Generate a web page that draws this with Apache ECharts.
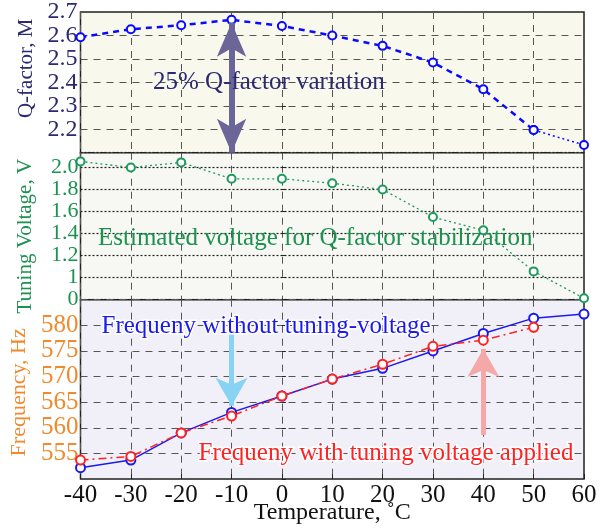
<!DOCTYPE html>
<html>
<head>
<meta charset="utf-8">
<script src="https://cdn.jsdelivr.net/npm/echarts@6/dist/echarts.min.js"></script>
<style>
  html, body { margin: 0; padding: 0; background: #fff; }
  #chart { width: 612px; height: 529px; }
</style>
</head>
<body>
<div id="chart"></div>
<script>
// data
const temps = [-40, -30, -20, -10, 0, 10, 20, 30, 40, 50, 60];
const qFactor = [2.593, 2.627, 2.644, 2.667, 2.641, 2.600, 2.556, 2.485, 2.371, 2.197, 2.133];
const tuningVoltage = [2.055, 2.0, 2.046, 1.897, 1.897, 1.857, 1.80, 1.55, 1.43, 1.057, 0.813];
const freqNoTuning = [552.2, 553.7, 559.0, 563.0, 566.2, 569.5, 571.6, 575.0, 578.4, 581.4, 582.2];
const freqTuned = [553.7, 554.4, 559.0, 562.3, 566.2, 569.5, 572.4, 575.9, 577.1, 579.6, null];
const qTicks = [2.2, 2.3, 2.4, 2.5, 2.6, 2.7];
const vTickLabels = { '0.8': '0', '1': '1', '1.2': '1.2', '1.4': '1.4', '1.6': '1.6', '1.8': '1.8', '2': '2.0' };
const fTicks = [555, 560, 565, 570, 575, 580];

const FONT = 'Liberation Serif';
const chart = echarts.init(document.getElementById('chart'));

const pair = arr => temps.map((t, i) => [t, arr[i]]);
// Q-factor: dashed up to 50, thin dotted last segment
const qMain = temps.map((t, i) => [t, i <= 9 ? qFactor[i] : null]);
const qTail = temps.map((t, i) => [t, i >= 9 ? qFactor[i] : null]);

function xAxisFor (idx, showLabels) {
  return {
    gridIndex: idx, type: 'value', min: -40, max: 60, interval: 10,
    axisLine: { show: false },
    axisTick: { show: showLabels, inside: true, length: 5, lineStyle: { color: '#222' } },
    axisLabel: { show: showLabels, color: '#111', fontFamily: FONT, fontSize: 25, margin: 4 },
    splitLine: { show: true, lineStyle: { color: '#555', type: [7, 6], width: 1 } },
    name: showLabels ? 'Temperature, ˚C' : '',
    nameLocation: 'middle', nameGap: 22, nameMoveOverlap: false,
    nameTextStyle: { color: '#111', fontFamily: FONT, fontSize: 24 }
  };
}

const yTick = { show: true, inside: true, length: 4, lineStyle: { color: '#222' } };
const gridBase = { left: 80.5, right: 28, show: true, borderColor: '#222', borderWidth: 1.5, containLabel: false, outerBoundsMode: 'none' };

chart.setOption({
  animation: false,
  backgroundColor: '#fff',
  grid: [
    Object.assign({ top: 12, height: 140.7, backgroundColor: '#f8f8ec' }, gridBase),
    Object.assign({ top: 152.7, height: 147, backgroundColor: '#f7f7f3' }, gridBase),
    Object.assign({ top: 299.7, height: 179.3, backgroundColor: '#f1f0f8' }, gridBase)
  ],
  xAxis: [xAxisFor(0, false), xAxisFor(1, false), xAxisFor(2, true)],
  yAxis: [
    {
      gridIndex: 0, type: 'value', min: 2.1, max: 2.7005, interval: 0.1,
      axisLine: { show: false }, axisTick: yTick,
      axisLabel: {
        color: '#2b2970', fontFamily: FONT, fontSize: 24, lineHeight: 20, margin: 3,
        showMinLabel: false, hideOverlap: false,
        formatter: v => qTicks.some(t => Math.abs(t - v) < 1e-6) ? v.toFixed(1) : ''
      },
      splitLine: { lineStyle: { color: '#555', type: [7, 6] } },
      name: 'Q-factor, M', nameLocation: 'middle', nameGap: 44,
      nameTextStyle: { color: '#2b2970', fontFamily: FONT, fontSize: 21, padding: [0, 0, 0, 28] }
    },
    {
      gridIndex: 1, type: 'value', min: 0.8, max: 2.134, interval: 0.2,
      axisLine: { show: false }, axisTick: yTick,
      axisLabel: {
        color: '#1c9150', fontFamily: FONT, fontSize: 22, lineHeight: 20, margin: 2, hideOverlap: false,
        formatter: v => vTickLabels[String(Math.round(v * 10) / 10)] || ''
      },
      splitLine: { lineStyle: { color: '#222', type: [2, 2], width: 1.2 } },
      name: 'Tuning Voltage, V', nameLocation: 'middle', nameGap: 45,
      nameTextStyle: { color: '#1c9150', fontFamily: FONT, fontSize: 21, padding: [0, 20, 0, 0] }
    },
    {
      gridIndex: 2, type: 'value', min: 550, max: 585, interval: 5,
      axisLine: { show: false }, axisTick: yTick,
      axisLabel: {
        color: '#f08a2c', fontFamily: FONT, fontSize: 25, lineHeight: 22, margin: 2, hideOverlap: false,
        formatter: v => fTicks.includes(v) ? String(v) : ''
      },
      splitLine: { lineStyle: { color: '#555', type: [7, 6] } },
      name: 'Frequency, Hz', nameLocation: 'middle', nameGap: 45,
      nameTextStyle: { color: '#f08a2c', fontFamily: FONT, fontSize: 22, padding: [0, 6, 0, 0] }
    }
  ],
  series: [
    {
      type: 'line', xAxisIndex: 0, yAxisIndex: 0, data: qMain,
      symbol: 'emptyCircle', symbolSize: 8, connectNulls: false,
      lineStyle: { color: '#0a0aff', width: 2.5, type: [6, 5] },
      itemStyle: { color: '#0a0aff', borderWidth: 2 },
      markLine: {
        silent: true, animation: false, symbol: ['arrow', 'arrow'], symbolSize: [22, 34],
        label: { show: false },
        lineStyle: { color: '#6b6598', width: 6, type: 'solid' },
        data: [[{ coord: [-10, 2.655] }, { coord: [-10, 2.1] }]]
      }
    },
    {
      type: 'line', xAxisIndex: 0, yAxisIndex: 0, data: qTail,
      symbol: 'emptyCircle', symbolSize: 8, connectNulls: false,
      lineStyle: { color: '#0a0aff', width: 1.5, type: [2, 3] },
      itemStyle: { color: '#0a0aff', borderWidth: 2 }
    },
    {
      type: 'line', xAxisIndex: 1, yAxisIndex: 1, data: pair(tuningVoltage),
      symbol: 'emptyCircle', symbolSize: 8,
      lineStyle: { color: '#1f9a5c', width: 1.3, type: [2, 3] },
      itemStyle: { color: '#1f9a5c', borderWidth: 1.5 }
    },
    {
      type: 'line', xAxisIndex: 2, yAxisIndex: 2, data: pair(freqNoTuning),
      symbol: 'emptyCircle', symbolSize: 9,
      lineStyle: { color: '#1a1aee', width: 1.5 },
      itemStyle: { color: '#1a1aee', borderWidth: 2.5 },
      markLine: {
        silent: true, animation: false, symbol: ['none', 'arrow'], symbolSize: [24, 28],
        label: { show: false },
        lineStyle: { color: '#88d2f3', width: 5, type: 'solid' },
        data: [[{ coord: [-10, 578.2] }, { coord: [-10, 564.3] }]]
      }
    },
    {
      type: 'line', xAxisIndex: 2, yAxisIndex: 2, data: pair(freqTuned),
      symbol: 'emptyCircle', symbolSize: 9,
      lineStyle: { color: '#ff2222', width: 1.5, type: [8, 4, 2, 4] },
      itemStyle: { color: '#ff2222', borderWidth: 2.5 },
      markLine: {
        silent: true, animation: false, symbol: ['none', 'arrow'], symbolSize: [24, 28],
        label: { show: false },
        lineStyle: { color: '#f5a8a8', width: 5, type: 'solid' },
        data: [[{ coord: [40, 558.6] }, { coord: [40, 575.4] }]]
      }
    }
  ],
  graphic: [
    {
      type: 'text', left: 153, top: 70, z: 100,
      style: { text: '25% Q-factor variation', fill: '#2b2970', font: '25px "Liberation Serif"' }
    },
    {
      type: 'text', left: 98, top: 226, z: 100,
      style: { text: 'Estimated voltage for Q-factor stabilization', fill: '#1c9150', font: '25px "Liberation Serif"' }
    },
    {
      type: 'text', left: 100, top: 312, z: 100,
      style: { text: 'Frequeny without tuning-voltage', fill: '#1a1aee', font: '25px "Liberation Serif"', stroke: '#fff', lineWidth: 3 }
    },
    {
      type: 'text', left: 197, top: 439, z: 100,
      style: { text: 'Frequeny with tuning voltage applied', fill: '#ff2222', font: '25px "Liberation Serif"', stroke: '#fff', lineWidth: 3 }
    }
  ]
});
</script>
</body>
</html>
